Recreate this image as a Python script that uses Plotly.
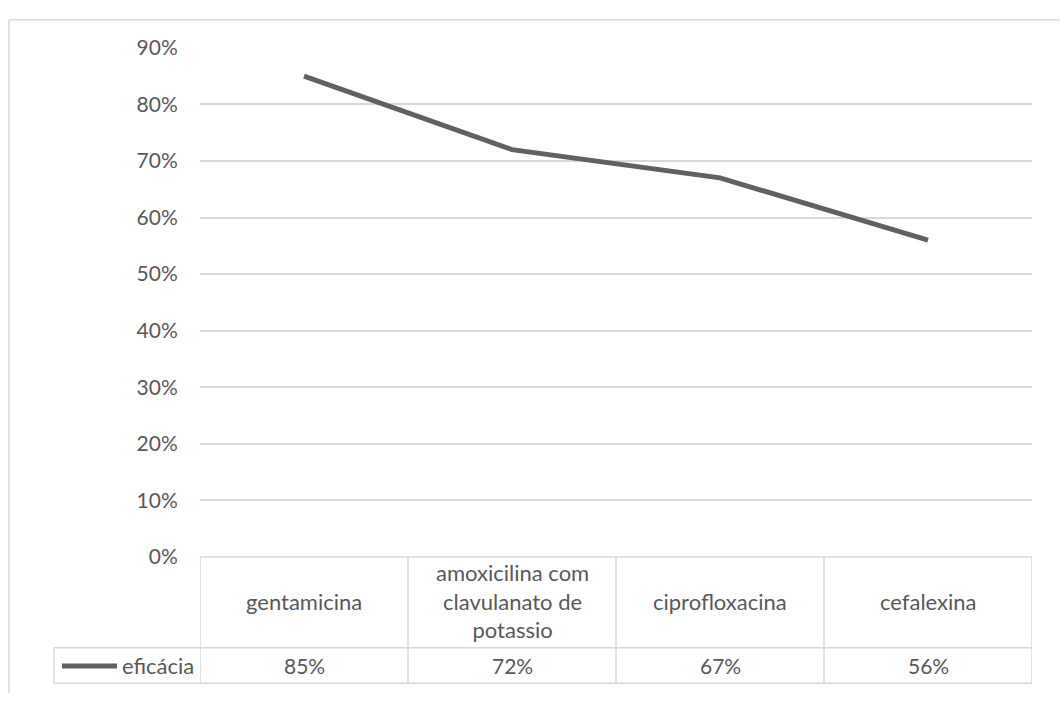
import plotly.graph_objects as go

categories = ["gentamicina", "amoxicilina com<br>clavulanato de<br>potassio", "ciprofloxacina", "cefalexina"]
series_name = "eficácia"
values = [0.85, 0.72, 0.67, 0.56]
y_ticks = [0, 0.1, 0.2, 0.3, 0.4, 0.5, 0.6, 0.7, 0.8, 0.9]
y_tick_labels = ["0%", "10%", "20%", "30%", "40%", "50%", "60%", "70%", "80%", "90%"]

W, H = 1060, 704
FONT = "Lato, Open Sans, sans-serif"
FS = 21
FS_TABLE = 22
TXT = "#595959"
GRID = "#d9d9d9"
LINE = "#616161"

def px(x):
    return x / W

def py(y):
    return 1 - y / H

xs = list(range(len(categories)))

fig = go.Figure()
fig.add_trace(go.Scatter(
    x=xs, y=values, mode="lines", name=series_name,
    line=dict(color=LINE, width=5), showlegend=False, hoverinfo="skip",
))

plot_left, plot_right = 200, 1032
y_zero, y_top = 563, 35
row1_bottom, row2_bottom = 657, 694
legend_left = 54

shapes = []
shapes.append(dict(type="line", xref="paper", yref="paper", x0=px(9), x1=px(1060), y0=py(6), y1=py(6), line=dict(color=GRID, width=1.5)))
shapes.append(dict(type="line", xref="paper", yref="paper", x0=px(9), x1=px(9), y0=py(6), y1=py(704), line=dict(color=GRID, width=1.5)))
shapes.append(dict(type="line", xref="paper", yref="paper", x0=px(plot_left), x1=px(plot_right), y0=py(y_zero), y1=py(y_zero), line=dict(color=GRID, width=1.5)))
for yy in (row1_bottom, row2_bottom):
    shapes.append(dict(type="line", xref="paper", yref="paper", x0=px(legend_left), x1=px(plot_right), y0=py(yy), y1=py(yy), line=dict(color=GRID, width=1.5)))
for i in range(len(categories) + 1):
    shapes.append(dict(type="line", xref="x", yref="paper", x0=i - 0.5, x1=i - 0.5, y0=py(y_zero), y1=py(row2_bottom), line=dict(color=GRID, width=1.5)))
shapes.append(dict(type="line", xref="paper", yref="paper", x0=px(legend_left), x1=px(legend_left), y0=py(row1_bottom), y1=py(row2_bottom), line=dict(color=GRID, width=1.5)))
shapes.append(dict(type="line", xref="paper", yref="paper", x0=px(62), x1=px(117), y0=py(676), y1=py(676), line=dict(color=LINE, width=5)))

annotations = []
for i, c in enumerate(categories):
    annotations.append(dict(x=i, xref="x", y=py((y_zero + row1_bottom) / 2 - 1), yref="paper", text=c, showarrow=False,
                            font=dict(family=FONT, size=FS_TABLE, color=TXT), align="center", yanchor="middle"))
    annotations.append(dict(x=i, xref="x", y=py((row1_bottom + row2_bottom) / 2), yref="paper", text=f"{round(values[i]*100)}%",
                            showarrow=False, font=dict(family=FONT, size=FS, color=TXT), yanchor="middle"))
annotations.append(dict(x=px(196), xref="paper", y=py((row1_bottom + row2_bottom) / 2), yref="paper", text=series_name,
                        showarrow=False, xanchor="right", yanchor="middle", font=dict(family=FONT, size=FS_TABLE, color=TXT)))

fig.update_layout(
    width=W, height=H, autosize=False,
    margin=dict(l=0, r=0, t=0, b=0),
    paper_bgcolor="white", plot_bgcolor="white",
    shapes=shapes, annotations=annotations,
    xaxis=dict(domain=[px(plot_left), px(plot_right)], range=[-0.5, len(categories) - 0.5],
               showticklabels=False, showgrid=False, zeroline=False, showline=False, fixedrange=True),
    yaxis=dict(domain=[py(y_zero), py(y_top)], range=[0, 0.9], tickvals=y_ticks, ticktext=y_tick_labels,
               showgrid=True, gridcolor=GRID, gridwidth=1.5, zeroline=False, showline=False,
               ticks="outside", ticklen=17, tickcolor="rgba(0,0,0,0)",
               tickfont=dict(family=FONT, size=FS, color=TXT), fixedrange=True),
)

fig.write_html("out.html", config={"displayModeBar": False, "responsive": False})

with open("out.html", "r", encoding="utf-8") as f:
    html = f.read()
html = html.replace("<head>", "<head><style>html,body{margin:0;padding:0;overflow:hidden;background:white;}</style>", 1)
with open("out.html", "w", encoding="utf-8") as f:
    f.write(html)
